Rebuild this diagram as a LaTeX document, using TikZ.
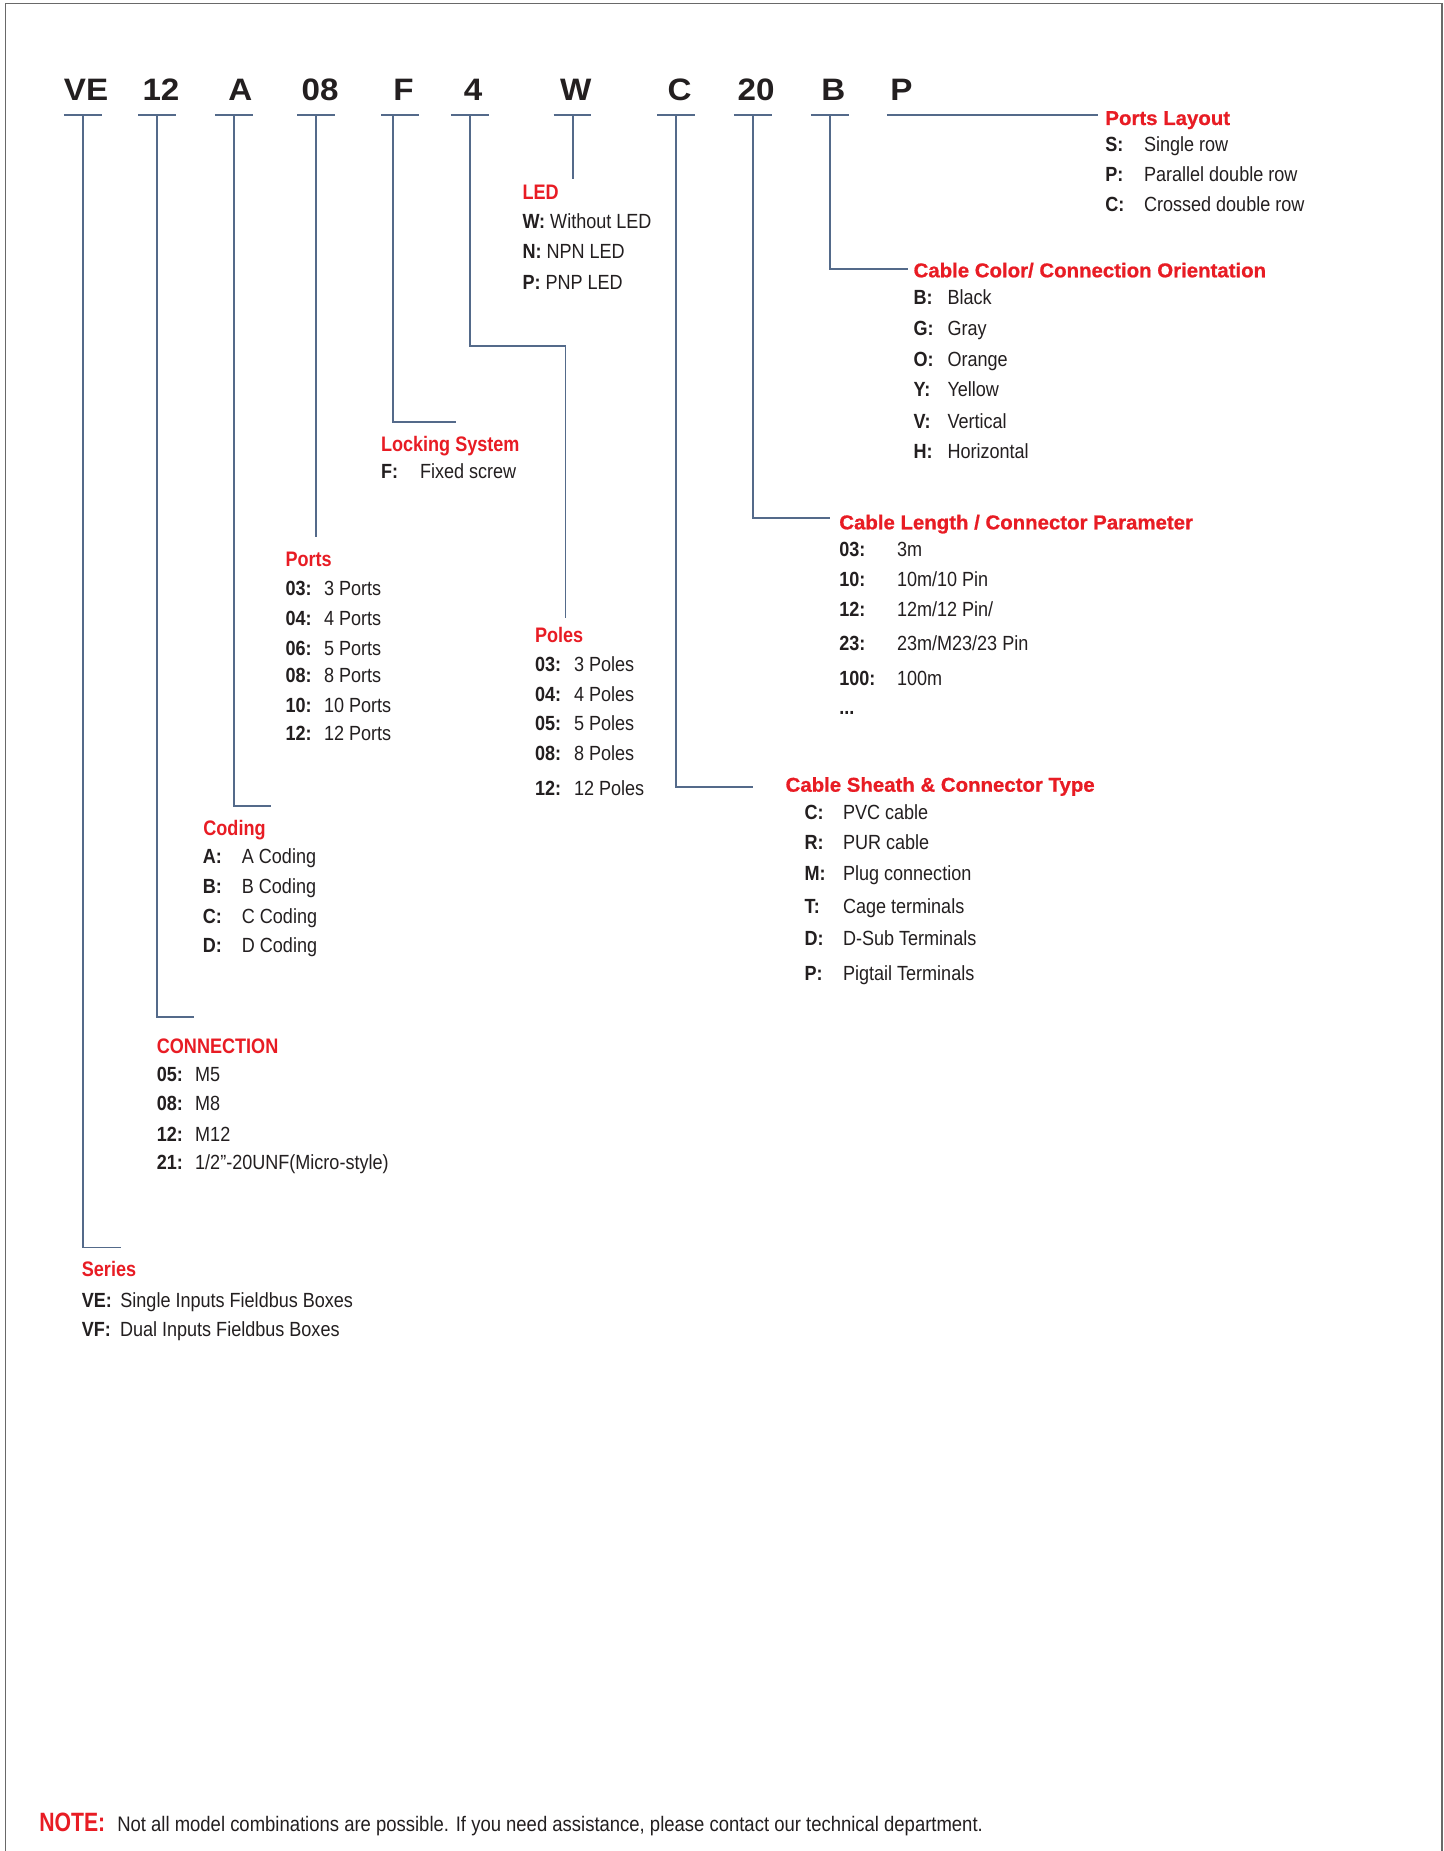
\documentclass[tikz,border=0pt]{standalone}
\usepackage{fontspec}
\setmainfont{Liberation Sans}
\newfontfamily\itemf{Liberation Sans}[FakeStretch=0.88]
\newfontfamily\medf{Liberation Sans}[FakeStretch=0.86]
\newfontfamily\heavyf{Liberation Sans}[FakeStretch=1.02,FakeBold=0.8]
\newfontfamily\codef{Liberation Sans}[FakeStretch=1.07]
\newfontfamily\notef{Liberation Sans}[FakeStretch=0.80]
\definecolor{redc}{RGB}{232,28,36}
\definecolor{ink}{RGB}{35,31,32}
\definecolor{linec}{RGB}{84,106,138}
\definecolor{framec}{RGB}{105,105,105}
\tikzset{
  txt/.style={inner sep=0pt, outer sep=0pt, anchor=base west, text=ink},
  itemt/.style={txt, font=\itemf\fontsize{20.5}{24}\selectfont},
  keyt/.style={txt, font=\itemf\bfseries\fontsize{20.5}{24}\selectfont},
  medt/.style={txt, text=redc, font=\medf\bfseries\fontsize{21}{25}\selectfont},
  hvyt/.style={txt, text=redc, font=\heavyf\bfseries\fontsize{20}{24}\selectfont},
  codet/.style={inner sep=0pt, outer sep=0pt, anchor=base, text=ink, font=\codef\bfseries\fontsize{31}{36}\selectfont},
  conn/.style={draw=linec, line width=1.8pt},
  framel/.style={draw=framec, line width=1.8pt}
}
\newcommand\rowKV[6]{\node[keyt] (#1k) at (#2,#4) {#5}; \node[itemt] (#1v) at (#3,#4) {#6};}
\newcommand\codeseg[5]{% name, text, text x, underline left, underline right
  \node[codet] (c#1) at (#3,101) {#2};
  \coordinate (l#1) at (#4,115); \coordinate (r#1) at (#5,115);
  \draw[conn] (l#1) -- (r#1);}
\begin{document}
\begin{tikzpicture}[x=1pt,y=-1pt]
\useasboundingbox (0,0) rectangle (1443,1851);
\fill[white] (0,0) rectangle (1443,1851);
% frame
\coordinate (fbl) at (5.5,1853); \coordinate (ftl) at (5.5,3.5);
\coordinate (ftr) at (1442,3.5); \coordinate (fbr) at (1442,1853);
\draw[framel] (fbl) -- (ftl) -- (ftr) -- (fbr);

% code letters and underlines
\codeseg{VE}{VE}{86}{63.8}{101.5}
\codeseg{D12}{12}{161}{138.2}{175.8}
\codeseg{A}{A}{240.4}{214.9}{252.5}
\codeseg{D08}{08}{320}{297}{334.7}
\codeseg{F}{F}{403.6}{381}{418.7}
\codeseg{D4}{4}{473}{450.9}{488.5}
\codeseg{W}{W}{575.7}{553.7}{591.4}
\codeseg{C}{C}{679.6}{657}{694.7}
\codeseg{D20}{20}{756}{733.8}{771.6}
\codeseg{B}{B}{833.4}{810.8}{848.6}
\node[codet] (cP) at (901.4,101) {P};
\coordinate (lP) at (886.9,115); \coordinate (eP) at (1098,115);
\draw[conn] (lP) -- (eP);

% vertical connectors
\coordinate (vVE) at (83,115);   \coordinate (eVE) at (121,1247.5);
\coordinate (vD12) at (157,115); \coordinate (eD12) at (194.4,1017);
\coordinate (vA) at (234,115);   \coordinate (eA) at (270.9,805.7);
\coordinate (vD08) at (316,115); \coordinate (eD08) at (316,537.3);
\coordinate (vF) at (393,115);   \coordinate (eF) at (455.5,421.7);
\coordinate (vD4) at (469.7,115); \coordinate (kD4) at (469.7,345.7); \coordinate (eD4) at (565.5,618.3);
\coordinate (vW) at (573,115);   \coordinate (eW) at (573,179.3);
\coordinate (vC) at (675.8,115); \coordinate (eC) at (752.5,786.7);
\coordinate (vD20) at (752.7,115); \coordinate (eD20) at (830,517.7);
\coordinate (vB) at (829.7,115); \coordinate (eB) at (908,268.7);
\draw[conn] (vVE) |- (eVE);
\draw[conn] (vD12) |- (eD12);
\draw[conn] (vA) |- (eA);
\draw[conn] (vD08) -- (eD08);
\draw[conn] (vF) |- (eF);
\draw[conn] (vD4) -- (kD4) -| (eD4);
\draw[conn] (vW) -- (eW);
\draw[conn] (vC) |- (eC);
\draw[conn] (vD20) |- (eD20);
\draw[conn] (vB) |- (eB);

% Ports Layout
\node[hvyt] (tPL) at (1105.4,125) {Ports Layout};
\rowKV{pl1}{1105.4}{1144}{151.7}{S:}{Single row}
\rowKV{pl2}{1105.4}{1144}{181.7}{P:}{Parallel double row}
\rowKV{pl3}{1105.4}{1144}{211.7}{C:}{Crossed double row}

% LED
\node[medt] (tLED) at (522.5,200) {LED};
\node[itemt] (led1) at (522.5,228.3) {\textbf{W:} Without LED};
\node[itemt] (led2) at (522.5,258.3) {\textbf{N:} NPN LED};
\node[itemt] (led3) at (522.5,290) {\textbf{P:} PNP LED};

% Cable Color
\node[hvyt] (tCC) at (913.6,277.3) {Cable Color/ Connection Orientation};
\rowKV{cc1}{913.6}{947.5}{305}{B:}{Black}
\rowKV{cc2}{913.6}{947.5}{335}{G:}{Gray}
\rowKV{cc3}{913.6}{947.5}{366.7}{O:}{Orange}
\rowKV{cc4}{913.6}{947.5}{396.7}{Y:}{Yellow}
\rowKV{cc5}{913.6}{947.5}{428.3}{V:}{Vertical}
\rowKV{cc6}{913.6}{947.5}{458.3}{H:}{Horizontal}

% Locking System
\node[medt] (tLS) at (381,451.7) {Locking System};
\rowKV{ls1}{381}{420}{478.3}{F:}{Fixed screw}

% Ports
\node[medt] (tPo) at (285.6,566) {Ports};
\rowKV{po1}{285.6}{324}{595}{03:}{3 Ports}
\rowKV{po2}{285.6}{324}{625}{04:}{4 Ports}
\rowKV{po3}{285.6}{324}{655}{06:}{5 Ports}
\rowKV{po4}{285.6}{324}{682.7}{08:}{8 Ports}
\rowKV{po5}{285.6}{324}{712.7}{10:}{10 Ports}
\rowKV{po6}{285.6}{324}{740.7}{12:}{12 Ports}

% Poles
\node[medt] (tPl) at (535,642.7) {Poles};
\rowKV{pe1}{535}{574}{671}{03:}{3 Poles}
\rowKV{pe2}{535}{574}{701}{04:}{4 Poles}
\rowKV{pe3}{535}{574}{730.7}{05:}{5 Poles}
\rowKV{pe4}{535}{574}{760.7}{08:}{8 Poles}
\rowKV{pe5}{535}{574}{795}{12:}{12 Poles}

% Cable Length
\node[hvyt] (tCL) at (839.3,529.3) {Cable Length / Connector Parameter};
\rowKV{cl1}{839.3}{897}{556}{03:}{3m}
\rowKV{cl2}{839.3}{897}{586}{10:}{10m/10 Pin}
\rowKV{cl3}{839.3}{897}{616.7}{12:}{12m/12 Pin/}
\rowKV{cl4}{839.3}{897}{650}{23:}{23m/M23/23 Pin}
\rowKV{cl5}{839.3}{897}{685.7}{100:}{100m}
\node[keyt] (cl6) at (839.3,714) {...};

% Cable Sheath
\node[hvyt] (tCS) at (785.6,791.7) {Cable Sheath \& Connector Type};
\rowKV{cs1}{804.7}{843}{819.3}{C:}{PVC cable}
\rowKV{cs2}{804.7}{843}{849.3}{R:}{PUR cable}
\rowKV{cs3}{804.7}{843}{880.7}{M:}{Plug connection}
\rowKV{cs4}{804.7}{843}{913.3}{T:}{Cage terminals}
\rowKV{cs5}{804.7}{843}{945}{D:}{D-Sub Terminals}
\rowKV{cs6}{804.7}{843}{980.7}{P:}{Pigtail Terminals}

% Coding
\node[medt] (tCo) at (203.4,835.7) {Coding};
\rowKV{co1}{202.8}{241.9}{863.6}{A:}{A Coding}
\rowKV{co2}{202.8}{241.9}{893.6}{B:}{B Coding}
\rowKV{co3}{202.8}{241.9}{923.2}{C:}{C Coding}
\rowKV{co4}{202.8}{241.9}{952.9}{D:}{D Coding}

% CONNECTION
\node[medt] (tCN) at (156.9,1053) {CONNECTION};
\rowKV{cn1}{156.9}{195.2}{1081}{05:}{M5}
\rowKV{cn2}{156.9}{195.2}{1110.7}{08:}{M8}
\rowKV{cn3}{156.9}{195.2}{1141.8}{12:}{M12}
\rowKV{cn4}{156.9}{195.2}{1169.6}{21:}{1/2”-20UNF(Micro-style)}

% Series
\node[medt] (tSe) at (81.9,1276) {Series};
\rowKV{se1}{81.9}{120.4}{1307}{VE:}{Single Inputs Fieldbus Boxes}
\rowKV{se2}{81.9}{120}{1336.4}{VF:}{Dual Inputs Fieldbus Boxes}

% NOTE
\node[txt, text=redc, font=\notef\bfseries\fontsize{26.5}{30}\selectfont] (nt) at (39.3,1831.7) {NOTE:};
\node[txt, font=\itemf\fontsize{21}{25}\selectfont] (ntx) at (117.3,1831.7) {Not all model combinations are possible. If you need assistance, please contact our technical department.};
\end{tikzpicture}
\end{document}
